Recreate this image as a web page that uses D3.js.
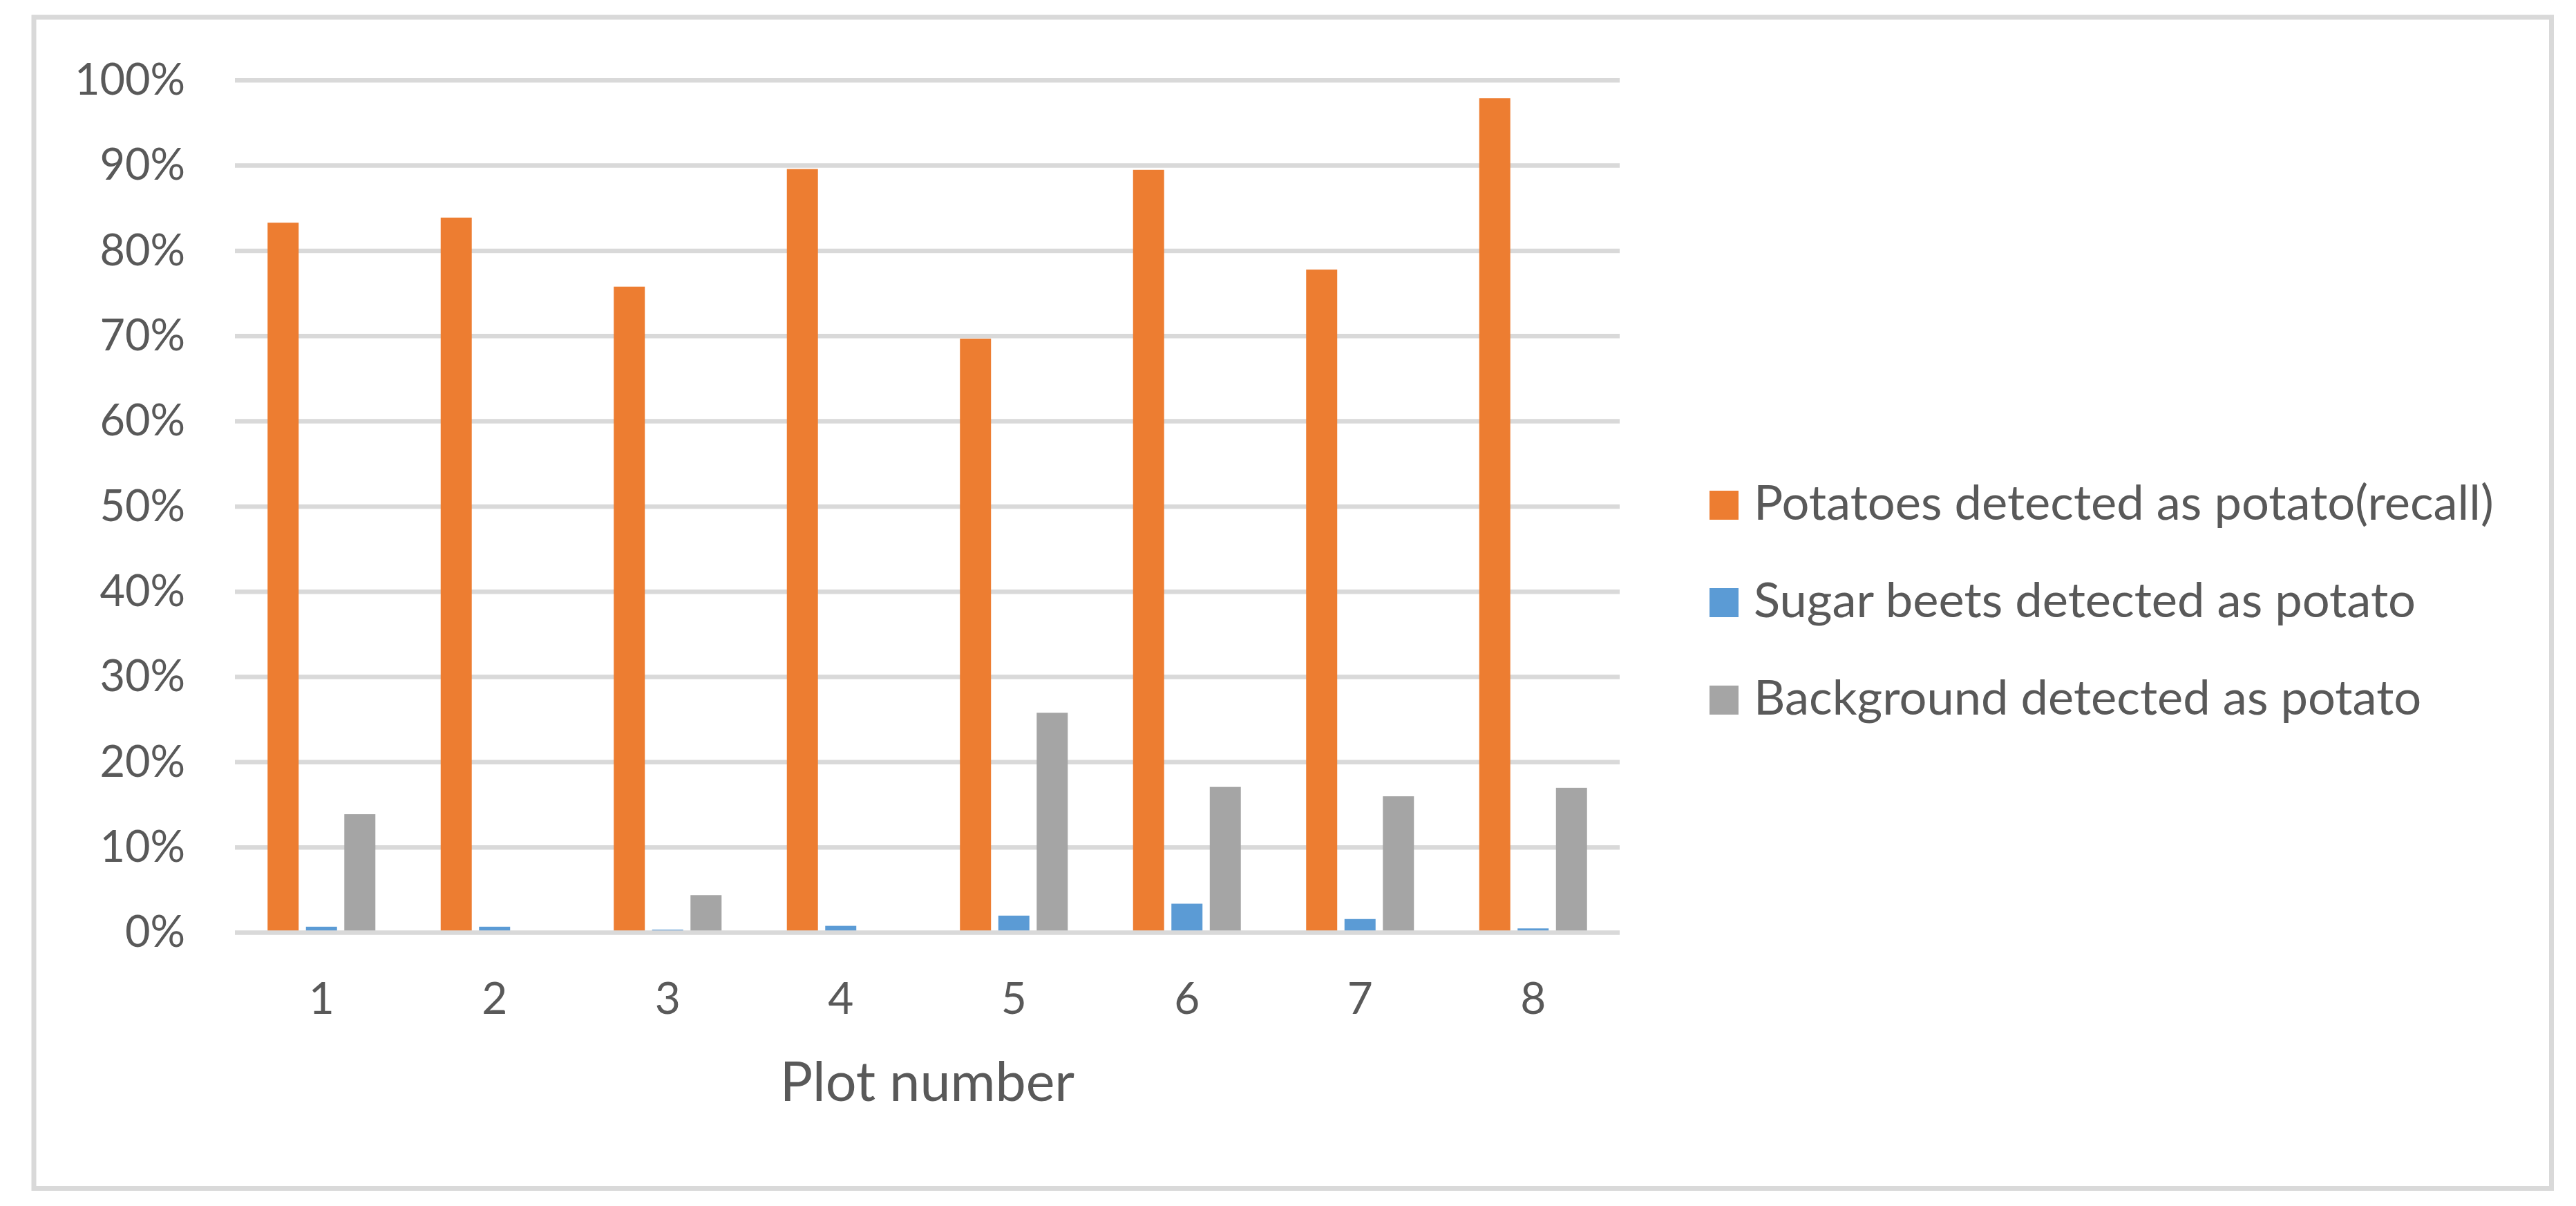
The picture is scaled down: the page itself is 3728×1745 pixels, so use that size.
<!DOCTYPE html>
<html>
<head>
<meta charset="utf-8">
<script src="https://cdn.jsdelivr.net/npm/d3@7"></script>
<style>
  html, body { margin: 0; padding: 0; background: #ffffff; }
  svg { display: block; }
  text { font-family: Lato, "Open Sans", sans-serif; fill: #595959; }
</style>
</head>
<body>
<svg id="chart" width="3728" height="1745"></svg>
<script>
// ---- Data ----
const categories = ["1", "2", "3", "4", "5", "6", "7", "8"];
const seriesNames = [
  "Potatoes detected as potato(recall)",
  "Sugar beets detected as potato",
  "Background detected as potato"
];
const potatoesRecall = [83.3, 83.9, 75.8, 89.6, 69.7, 89.5, 77.8, 97.9];
const sugarBeets     = [0.7, 0.7, 0.35, 0.8, 2.0, 3.4, 1.6, 0.5];
const background     = [13.9, 0, 4.4, 0, 25.8, 17.1, 16.0, 17.0];
const yTickValues = [0, 0.1, 0.2, 0.3, 0.4, 0.5, 0.6, 0.7, 0.8, 0.9, 1.0];
const xAxisTitle = "Plot number";
const seriesColors = ["#ED7D31", "#5B9BD5", "#A5A5A5"];

const seriesValues = [potatoesRecall, sugarBeets, background];
const rows = categories.map((c, i) => ({
  cat: c,
  vals: seriesValues.map((arr, s) => ({ s, v: arr[i] / 100 }))
}));

// ---- Layout ----
const W = 3728, H = 1745;
const plotLeft = 340, plotRight = 2344, plotTop = 116.3, plotBottom = 1349.5;
const gridColor = "#D9D9D9";
const lineW = 6.5;

const svg = d3.select("#chart");

// outer border
svg.append("rect")
  .attr("x", 49).attr("y", 25)
  .attr("width", 3692.5 - 49).attr("height", 1719.5 - 25)
  .attr("fill", "#fff")
  .attr("stroke", gridColor).attr("stroke-width", 7);

const x0 = d3.scaleBand().domain(categories).range([plotLeft, plotRight]).paddingInner(0).paddingOuter(0);
const groupPad = x0.bandwidth() * 0.1886;
const x1 = d3.scaleBand().domain(d3.range(seriesNames.length))
  .range([groupPad, x0.bandwidth() - groupPad]).paddingInner(0.19).paddingOuter(0);
const y = d3.scaleLinear().domain([0, 1]).range([plotBottom, plotTop]);
const fmt = d3.format(".0%");

// gridlines
svg.append("g").selectAll("line")
  .data(yTickValues.filter(v => v > 0))
  .join("line")
  .attr("x1", plotLeft).attr("x2", plotRight)
  .attr("y1", d => y(d)).attr("y2", d => y(d))
  .attr("stroke", gridColor).attr("stroke-width", lineW);

// bars
const groups = svg.append("g").selectAll("g")
  .data(rows).join("g")
  .attr("transform", d => `translate(${x0(d.cat)},0)`);
groups.selectAll("rect")
  .data(d => d.vals).join("rect")
  .attr("x", d => x1(d.s))
  .attr("width", x1.bandwidth())
  .attr("y", d => y(d.v))
  .attr("height", d => y(0) - y(d.v))
  .attr("fill", d => seriesColors[d.s]);

// x axis baseline (drawn over bars)
svg.append("line")
  .attr("x1", plotLeft).attr("x2", plotRight)
  .attr("y1", y(0)).attr("y2", y(0))
  .attr("stroke", gridColor).attr("stroke-width", lineW);

// y axis labels
const yAxis = svg.append("g")
  .attr("transform", `translate(${plotLeft},0)`)
  .call(d3.axisLeft(y).tickValues(yTickValues).tickFormat(fmt).tickSize(0).tickPadding(72));
yAxis.select(".domain").remove();
yAxis.selectAll("text")
  .style("font-family", "Lato, 'Open Sans', sans-serif")
  .style("font-size", "63px").attr("fill", "#595959");

// x axis labels
const xAxis = svg.append("g")
  .attr("transform", `translate(0,${plotBottom})`)
  .call(d3.axisBottom(x0).tickSize(0).tickPadding(72));
xAxis.select(".domain").remove();
xAxis.selectAll("text")
  .style("font-family", "Lato, 'Open Sans', sans-serif")
  .style("font-size", "64px").attr("fill", "#595959");

// x axis title
svg.append("text")
  .attr("x", (plotLeft + plotRight) / 2).attr("y", 1593)
  .attr("text-anchor", "middle")
  .style("font-size", "79px")
  .text(xAxisTitle);

// legend
const legendX = 2474, legendY0 = 731, legendStep = 141, sw = 42;
const leg = svg.append("g").selectAll("g")
  .data(seriesNames).join("g")
  .attr("transform", (d, i) => `translate(${legendX},${legendY0 + i * legendStep})`);
leg.append("rect")
  .attr("x", 0).attr("y", -sw / 2).attr("width", sw).attr("height", sw)
  .attr("fill", (d, i) => seriesColors[i]);
leg.append("text")
  .attr("x", sw + 22).attr("y", sw / 2)
  .style("font-size", "70.5px")
  .text(d => d);
</script>
</body>
</html>
